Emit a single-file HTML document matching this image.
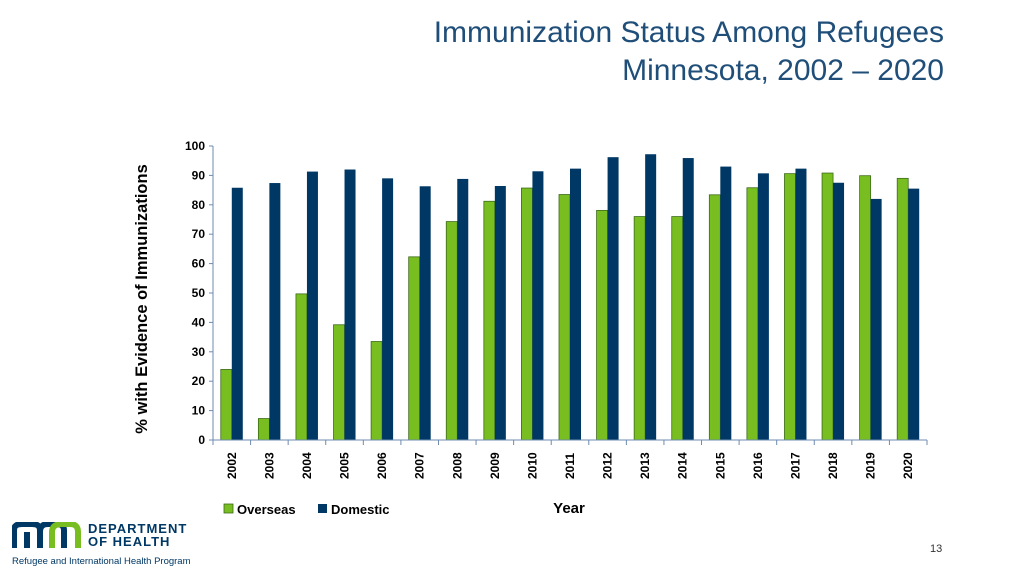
<!DOCTYPE html>
<html><head><meta charset="utf-8"><style>
body{margin:0;width:1024px;height:576px;background:#fff;font-family:"Liberation Sans",sans-serif;overflow:hidden;position:relative}
.t{position:absolute;right:80px;top:14px;text-align:right;color:#1f4e79;font-size:30px;line-height:38px}
</style></head><body>
<div class="t">Immunization Status Among Refugees<br>Minnesota, 2002 – 2020</div>
<svg id="c" width="1024" height="576" style="position:absolute;left:0;top:0"></svg>
<div style="position:absolute;left:12px;top:522px;width:180px;height:50px">
<svg width="70" height="28" style="position:absolute;left:0;top:0"><path d="M2 26 V8 Q2 2 10 2 H20 Q28 2 28 8 V26 M15 26 V10 M28 10 Q28 2 36 2 H44 Q52 2 52 8 V26" fill="none" stroke="#003865" stroke-width="6"/><path d="M40 26 V10 Q40 2 50 2 H58 Q66 2 66 10 V26" fill="none" stroke="#78be20" stroke-width="6"/></svg>
<div style="position:absolute;left:76px;top:0;font-weight:bold;font-size:13px;line-height:13px;color:#003865;letter-spacing:1px">DEPARTMENT<br>OF HEALTH</div>
<div style="position:absolute;left:0;top:34px;font-size:9.5px;color:#003865;white-space:nowrap">Refugee and International Health Program</div>
</div>
<div style="position:absolute;left:930px;top:543px;font-size:11px;color:#333">13</div>
<script>
const categories=["2002","2003","2004","2005","2006","2007","2008","2009","2010","2011","2012","2013","2014","2015","2016","2017","2018","2019","2020"];
const overseas=[24,7.3,49.7,39.2,33.5,62.3,74.3,81.2,85.7,83.5,78.1,76,76,83.4,85.8,90.6,90.8,89.9,89];
const domestic=[85.8,87.4,91.3,92,89,86.3,88.8,86.4,91.4,92.3,96.2,97.2,95.9,93,90.7,92.3,87.5,82,85.5];
const yTicks=[0,10,20,30,40,50,60,70,80,90,100];
const NS="http://www.w3.org/2000/svg";
const svg=document.getElementById('c');
const X0=213,X1=927,Y0=440,Y1=146;
const cw=(X1-X0)/categories.length;
const y=v=>Y0-(v/100)*(Y0-Y1);
const x=i=>X0+i*cw;
function mk(t,a,p){const e=document.createElementNS(NS,t);for(const k in a)e.setAttribute(k,a[k]);(p||svg).appendChild(e);return e;}
const bw=11;
categories.forEach((c,i)=>{
  const cx=x(i)+cw/2;
  const g=mk('rect',{x:cx-bw,y:y(overseas[i]),width:bw,height:Y0-y(overseas[i]),fill:'#78be20',stroke:'#3d6b1a','stroke-width':0.8});
  
  
  const d=mk('rect',{x:cx,y:y(domestic[i]),width:bw,height:Y0-y(domestic[i]),fill:'#003865'});
  
  
  const t=mk('text',{x:0,y:0,transform:`translate(${cx+4},${479}) rotate(-90)`,'font-size':12,'font-weight':'bold',fill:'#000'});
  t.textContent=c;
  
  
});
for(let i=0;i<=categories.length;i++){mk('line',{x1:x(i),x2:x(i),y1:Y0,y2:Y0+5,stroke:'#6d8bb0','stroke-width':1});}
yTicks.forEach(v=>{
  mk('line',{x1:X0-4,x2:X0,y1:y(v),y2:y(v),stroke:'#6d8bb0','stroke-width':1});
  const t=mk('text',{x:X0-8,y:y(v)+4,'text-anchor':'end','font-size':12,'font-weight':'bold'});
  t.textContent=v;
  
  
});
const ax=mk('line',{x1:X0,x2:X0,y1:Y1,y2:Y0,stroke:'#6d8bb0','stroke-width':1});


const bx=mk('line',{x1:X0,x2:X1,y1:Y0,y2:Y0,stroke:'#6d8bb0','stroke-width':1});


const yt=mk('text',{transform:'translate(147,299) rotate(-90)','text-anchor':'middle','font-size':16.5,'font-weight':'bold'});
yt.textContent='% with Evidence of Immunizations';


const xt=mk('text',{x:569,y:513,'text-anchor':'middle','font-size':15,'font-weight':'bold'});
xt.textContent='Year';


const l1=mk('rect',{x:224,y:504,width:9,height:9,fill:'#78be20',stroke:'#3d6b1a','stroke-width':0.8});


const lt1=mk('text',{x:237,y:514,'font-size':13,'font-weight':'bold'});lt1.textContent='Overseas';


const l2=mk('rect',{x:318,y:504,width:9,height:9,fill:'#003865'});


const lt2=mk('text',{x:331,y:514,'font-size':13,'font-weight':'bold'});lt2.textContent='Domestic';


</script>
</body></html>
